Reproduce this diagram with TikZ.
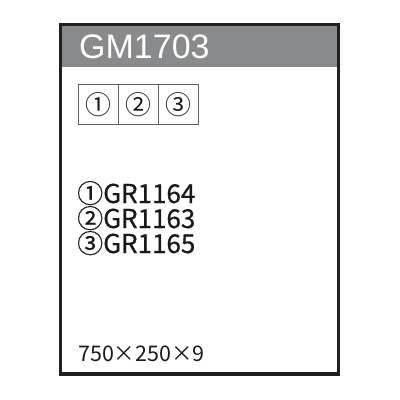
\documentclass[tikz,border=0pt]{standalone}
\usepackage{fontspec}
\setmainfont{Liberation Sans}
\newfontfamily\jpfont{Noto Sans CJK JP}
\newfontfamily\jpmed{Noto Sans CJK JP}[FakeBold=0.6]
\definecolor{hdrgray}{HTML}{898A8C}
\definecolor{frameblk}{HTML}{202020}
\definecolor{cellline}{HTML}{606060}
\definecolor{txtblk}{HTML}{1A1A1A}
\tikzset{
  cell/.style={draw=cellline, line width=0.9pt, minimum width=40pt, minimum height=40pt, inner sep=0pt, anchor=north west, font=\jpfont\fontsize{26}{26}\selectfont, text=txtblk},
  item/.style={anchor=base west, inner sep=0pt, font=\jpmed\fontsize{26}{26}\selectfont, text=txtblk},
}
\begin{document}
\begin{tikzpicture}[x=1pt,y=-1pt]
\useasboundingbox (0,0) rectangle (400,400);
\fill[white] (0,0) rectangle (400,400);
\fill[hdrgray] (60.5,24.5) rectangle (338.5,67);
\draw[frameblk, line width=3.5pt] (60.5,24.5) rectangle (338.5,374);
\node[anchor=base west, inner sep=0pt, text=white, font=\fontsize{34}{34}\selectfont] (title) at (79,58) {GM1703};
\node[cell] (c1) at (78,84) {①};
\node[cell] (c2) at (118,84) {②};
\node[cell] (c3) at (158,84) {③};
\node[item] (i1) at (77,203) {①GR1164};
\node[item] (i2) at (77,228) {②GR1163};
\node[item] (i3) at (77,253) {③GR1165};
\node[anchor=base west, inner sep=0pt, text=txtblk, font=\jpfont\fontsize{21.5}{21.5}\selectfont] (dim) at (78,361) {750×250×9};
\end{tikzpicture}
\end{document}
